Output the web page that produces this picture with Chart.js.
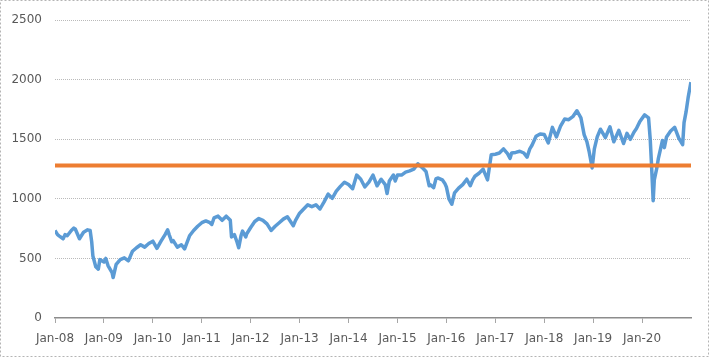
<!DOCTYPE html>
<html>
<head>
<meta charset="utf-8">
<script src="https://cdn.jsdelivr.net/npm/chart.js@4.4.1/dist/chart.umd.min.js"></script>
<style>
html,body{margin:0;padding:0;background:#fff;}
#wrap{width:711px;height:359px;position:relative;}
</style>
</head>
<body>
<div id="wrap"><canvas id="c" width="711" height="359"></canvas></div>
<script>
// ---- data ----
const dates = [
"2008-01-01","2008-01-20","2008-02-01","2008-03-01","2008-03-15","2008-04-01","2008-05-01","2008-05-20","2008-06-01","2008-07-01",
"2008-08-01","2008-09-01","2008-09-20","2008-10-01","2008-10-10","2008-11-01","2008-11-20","2008-12-01",
"2009-01-01","2009-01-15","2009-02-01","2009-03-01","2009-03-09","2009-04-01","2009-05-01","2009-06-01","2009-07-01","2009-08-01",
"2009-09-01","2009-10-01","2009-11-01","2009-12-01",
"2010-01-01","2010-02-01","2010-03-01","2010-04-01","2010-04-20","2010-05-01","2010-05-20","2010-06-01","2010-07-01","2010-08-01",
"2010-08-25","2010-09-01","2010-10-01","2010-11-01","2010-12-01",
"2011-01-01","2011-02-01","2011-03-01","2011-03-15","2011-04-01","2011-05-01","2011-06-01","2011-07-01","2011-08-01","2011-08-10",
"2011-09-01","2011-09-20","2011-10-03","2011-10-20","2011-11-01","2011-11-25","2011-12-01",
"2012-01-01","2012-02-01","2012-03-01","2012-04-01","2012-05-01","2012-06-01","2012-07-01","2012-08-01","2012-09-01","2012-10-01",
"2012-11-15","2012-12-01",
"2013-01-01","2013-02-01","2013-03-01","2013-04-01","2013-05-01","2013-06-01","2013-07-01","2013-08-01","2013-09-01","2013-10-01",
"2013-11-01","2013-12-01",
"2014-01-01","2014-02-01","2014-03-01","2014-04-01","2014-05-01","2014-06-01","2014-07-01","2014-08-01","2014-09-01","2014-10-01",
"2014-10-15","2014-11-01","2014-12-01","2014-12-15",
"2015-01-01","2015-02-01","2015-03-01","2015-04-01","2015-05-01","2015-06-01","2015-07-01","2015-08-01","2015-08-25","2015-09-01",
"2015-09-28","2015-10-15","2015-11-01","2015-12-01","2015-12-20",
"2016-01-01","2016-01-20","2016-02-11","2016-03-01","2016-04-01","2016-05-01","2016-06-01","2016-06-27","2016-07-15","2016-08-01",
"2016-09-01","2016-10-01","2016-11-04","2016-12-01",
"2017-01-01","2017-02-01","2017-03-01","2017-04-01","2017-04-20","2017-05-01","2017-06-01","2017-07-01","2017-08-01","2017-08-25",
"2017-09-15","2017-10-01","2017-11-01","2017-12-01",
"2018-01-01","2018-02-01","2018-03-01","2018-04-01","2018-05-01","2018-06-01","2018-07-01","2018-08-01","2018-09-01","2018-10-01",
"2018-10-25","2018-11-15","2018-12-01","2018-12-24",
"2019-01-10","2019-02-01","2019-02-25","2019-04-01","2019-05-05","2019-06-03","2019-07-10","2019-08-15","2019-09-10","2019-10-05",
"2019-11-01","2019-11-20","2019-12-15",
"2020-01-20","2020-02-19","2020-03-01","2020-03-10","2020-03-23","2020-04-01","2020-04-20","2020-05-01","2020-06-01","2020-06-15",
"2020-07-01","2020-08-01","2020-09-01","2020-10-01","2020-10-30","2020-11-10","2020-11-25","2020-12-10","2020-12-31"
];
const values = [
735,700,690,665,700,690,735,755,745,665,
720,740,735,640,520,430,410,490,
470,500,440,380,340,450,490,505,480,560,
590,615,595,625,
645,585,645,700,740,700,640,650,595,615,
580,600,690,735,770,
800,815,800,785,840,855,820,855,820,680,
700,640,590,690,730,680,705,
760,810,835,820,790,735,770,800,830,850,
775,820,
880,915,950,935,950,915,975,1040,1005,1065,
1105,1140,
1120,1085,1200,1165,1100,1140,1200,1110,1165,1120,
1045,1150,1200,1150,
1200,1200,1225,1235,1250,1295,1265,1230,1110,1120,
1095,1170,1175,1160,1130,
1100,1000,955,1050,1090,1120,1165,1110,1160,1190,
1215,1250,1160,1370,
1375,1385,1420,1380,1340,1385,1390,1400,1385,1350,
1420,1450,1525,1545,
1540,1470,1600,1520,1610,1670,1665,1690,1740,1680,
1540,1480,1400,1260,
1420,1520,1585,1515,1605,1480,1575,1465,1550,1500,
1560,1590,1650,
1705,1680,1500,1300,985,1160,1260,1340,1490,1430,
1520,1570,1600,1510,1455,1640,1730,1850,1980
];
const referenceLevel = [1280, 1280];
const tickLabels = ["Jan-08","Jan-09","Jan-10","Jan-11","Jan-12","Jan-13","Jan-14","Jan-15","Jan-16","Jan-17","Jan-18","Jan-19","Jan-20"];
const yTicks = [0, 500, 1000, 1500, 2000, 2500];
const startYear = 2008, endYear = 2021;

function toYear(s){
  const p = s.split("-").map(Number);
  return p[0] + (p[1]-1 + (p[2]-1)/30.5)/12;
}
const seriesPoints = dates.map((d,i)=>({x: toYear(d), y: values[i]}));
const refPoints = [{x:startYear, y:referenceLevel[0]},{x:endYear, y:referenceLevel[1]}];

const borderPlugin = {
  id:'outerBorder',
  afterDraw(chart){
    const ctx = chart.ctx;
    ctx.save();
    ctx.strokeStyle = '#b4b4b4';
    ctx.lineWidth = 1;
    ctx.setLineDash([2,2]);
    ctx.strokeRect(0.5,0.5,708,356);
    ctx.restore();
  }
};

Chart.defaults.font.family = "'DejaVu Sans', sans-serif";
Chart.defaults.font.size = 12;
Chart.defaults.color = '#595959';

new Chart(document.getElementById('c'), {
  type:'line',
  data:{
    datasets:[
      {data: refPoints, borderColor:'#ED7D31', borderWidth:4, pointRadius:0, order:0},
      {data: seriesPoints, borderColor:'#5B9BD5', borderWidth:3.5, pointRadius:0, tension:0, order:1, borderJoinStyle:'round'}
    ]
  },
  plugins:[borderPlugin],
  options:{
    responsive:false,
    animation:false,
    events:[],
    layout:{padding:{top:13, right:20, bottom:5, left:0}},
    plugins:{legend:{display:false}, tooltip:{enabled:false}},
    scales:{
      x:{
        type:'linear', min:startYear, max:endYear,
        afterBuildTicks(scale){ scale.ticks = tickLabels.map((t,i)=>({value:startYear+i})); },
        afterFit(scale){ scale.height = 36; },
        ticks:{autoSkip:false, maxRotation:0, padding:9,
          callback:(v)=> tickLabels[Math.round(v)-startYear] || ''},
        grid:{drawOnChartArea:false, drawTicks:true, tickLength:5, color:'#a6a6a6', lineWidth:1},
        border:{display:true, color:'#8c8c8c', width:1.5}
      },
      y:{
        min:0, max:2500,
        afterBuildTicks(scale){ scale.ticks = yTicks.map(v=>({value:v})); },
        afterFit(scale){ scale.width = 55; },
        ticks:{padding:13, callback:(v)=> String(v)},
        grid:{display:true, drawOnChartArea:true, drawTicks:false, lineWidth:1,
          color:(c)=> (c.tick && c.tick.value===0) ? 'rgba(0,0,0,0)' : '#bababa'},
        border:{display:false, dash:[1,1]}
      }
    }
  }
});
</script>
</body>
</html>
